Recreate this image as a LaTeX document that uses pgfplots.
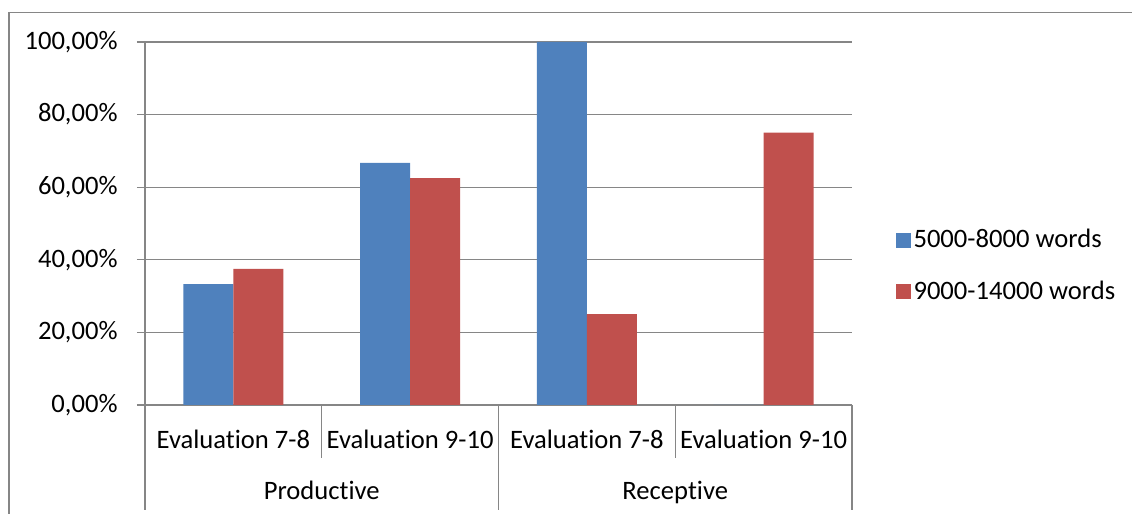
\documentclass[border=0pt]{standalone}
\usepackage{pgfplots}
\pgfplotsset{compat=1.18}
\usepackage{fontspec}
\setmainfont{Carlito}[Ligatures={NoCommon}]
\definecolor{bblue}{HTML}{4F81BD}
\definecolor{bred}{HTML}{C0504D}
\definecolor{lgray}{HTML}{868686}
\begin{document}
\begin{tikzpicture}[font=\fontsize{13.3}{15.5}\selectfont]
\useasboundingbox (0,0) rectangle (566pt,257pt);
\draw[lgray, line width=0.6pt] (4.5pt,0) -- (4.5pt,250.75pt) -- (566pt,250.75pt);
\begin{axis}[
  at={(72.5pt,54.5pt)}, anchor=south west,
  scale only axis, width=353.5pt, height=181.5pt,
  xmin=-0.5, xmax=3.5, ymin=0, ymax=100,
  ybar=0pt, bar width=25pt,
  axis x line*=bottom, axis y line*=left,
  axis line style={lgray, line width=0.6pt},
  ytick={0,20,40,60,80,100},
  yticklabels={{0,00\%},{20,00\%},{40,00\%},{60,00\%},{80,00\%},{100,00\%}},
  ymajorgrids, grid style={lgray, line width=0.6pt},
  major tick length=4pt, tick align=outside,
  ytick style={lgray, line width=0.6pt},
  xtick={0,1,2,3},
  xticklabels={Evaluation 7-8, Evaluation 9-10, Evaluation 7-8, Evaluation 9-10},
  xtick style={draw=none},
  xticklabel style={anchor=base, yshift=-18pt},
  yticklabel style={anchor=east, inner sep=0pt, xshift=-9.5pt},
  clip=false,
  legend style={at={(1.061,0.383)}, anchor=west, draw=none, fill=none,
    inner sep=0pt, row sep=12pt, nodes={inner sep=1.5pt},
    legend cell align=left},
]
\addplot[fill=bblue, draw=none,
  legend image code/.code={\fill[bblue] (0pt,-3.75pt) rectangle (7.5pt,3.75pt);}]
  coordinates {(0,33.33) (1,66.67) (2,100) (3,0)};
\addplot[fill=bred, draw=none,
  legend image code/.code={\fill[bred] (0pt,-3.75pt) rectangle (7.5pt,3.75pt);}]
  coordinates {(0,37.5) (1,62.5) (2,25) (3,75)};
\legend{5000-8000 words, 9000-14000 words}
\draw[lgray, line width=0.6pt] (axis cs:-0.5,0) -- ([yshift=-52.5pt]axis cs:-0.5,0);
\draw[lgray, line width=0.6pt] (axis cs:1.5,0) -- ([yshift=-52.5pt]axis cs:1.5,0);
\draw[lgray, line width=0.6pt] (axis cs:3.5,0) -- ([yshift=-52.5pt]axis cs:3.5,0);
\draw[lgray, line width=0.6pt] (axis cs:0.5,0) -- ([yshift=-26.5pt]axis cs:0.5,0);
\draw[lgray, line width=0.6pt] (axis cs:2.5,0) -- ([yshift=-26.5pt]axis cs:2.5,0);
\node[anchor=base, yshift=-47.5pt] at (axis cs:0.5,0) {Productive};
\node[anchor=base, yshift=-47.5pt] at (axis cs:2.5,0) {Receptive};
\end{axis}
\end{tikzpicture}
\end{document}
